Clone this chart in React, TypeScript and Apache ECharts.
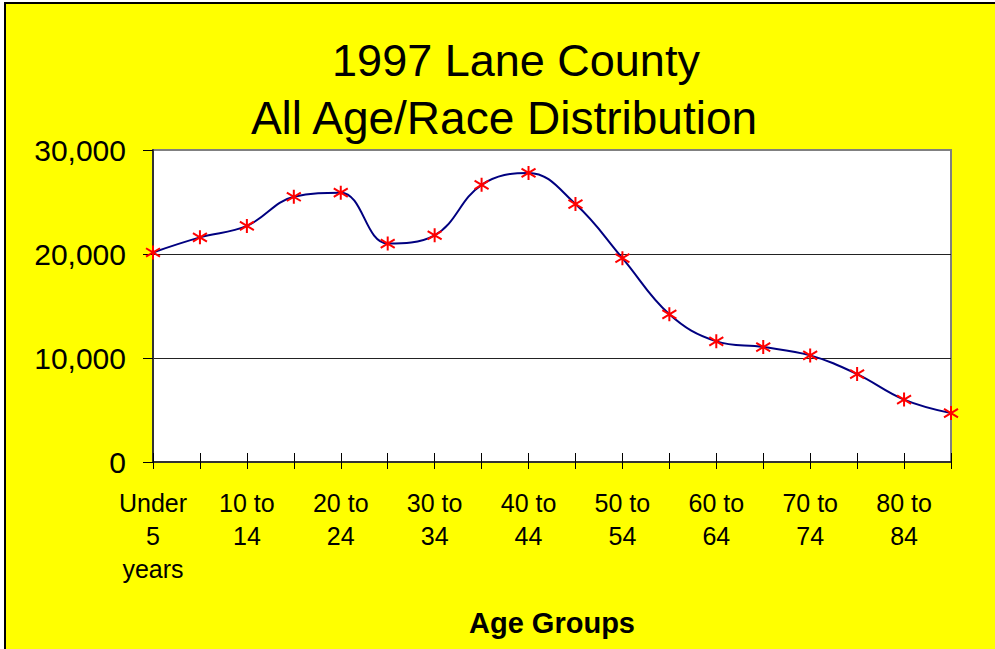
import React, { useEffect, useRef } from "react";
import * as echarts from "echarts";

const categories = [
  "Under\n5\nyears", "5 to\n9", "10 to\n14", "15 to\n19", "20 to\n24", "25 to\n29",
  "30 to\n34", "35 to\n39", "40 to\n44", "45 to\n49", "50 to\n54", "55 to\n59",
  "60 to\n64", "65 to\n69", "70 to\n74", "75 to\n79", "80 to\n84", "85 and\nover",
];
const population = [
  20150, 21600, 22700, 25500, 25900, 21000, 21800, 26650, 27800, 24800, 19600, 14200,
  11600, 11050, 10250, 8450, 6000, 4700,
];
const titleLines = ["1997 Lane County", "All Age/Race Distribution"];
const xAxisTitle = "Age Groups";

const FONT = "'Liberation Sans', Arial, sans-serif";

export default function App() {
  const ref = useRef<HTMLDivElement>(null);
  useEffect(() => {
    if (!ref.current) return;
    const chart = echarts.init(ref.current, undefined, { renderer: "svg" });
    chart.setOption({
      animation: false,
      backgroundColor: "#ffffff",
      graphic: [
        {
          type: "rect",
          z: -10,
          shape: { x: 5, y: 3, width: 1000, height: 660 },
          style: { fill: "#ffff00", stroke: "#000000", lineWidth: 2 },
        },
        {
          type: "text",
          x: 516,
          y: 60,
          style: { text: titleLines[0], font: `45px ${FONT}`, fill: "#000", textAlign: "center", textVerticalAlign: "middle" },
        },
        {
          type: "text",
          x: 504,
          y: 118,
          style: { text: titleLines[1], font: `46px ${FONT}`, fill: "#000", textAlign: "center", textVerticalAlign: "middle" },
        },
      ],
      grid: {
        left: 153,
        top: 150,
        right: 44,
        bottom: 187,
        show: true,
        backgroundColor: "#ffffff",
        borderColor: "#808080",
        borderWidth: 2,
      },
      xAxis: [
        {
          type: "category",
          data: categories,
          boundaryGap: false,
          position: "bottom",
          name: xAxisTitle,
          nameLocation: "middle",
          nameGap: 146,
          nameTextStyle: { fontFamily: FONT, fontSize: 29, fontWeight: "bold", color: "#000" },
          axisLine: { show: true, lineStyle: { color: "#333", width: 2 } },
          axisTick: { show: true, interval: 0, inside: false, length: 7, lineStyle: { color: "#000" } },
          axisLabel: {
            interval: 1,
            margin: 24,
            fontFamily: FONT,
            fontSize: 25,
            lineHeight: 33,
            color: "#000",
            align: "center",
          },
          splitLine: { show: false },
        },
        {
          type: "category",
          data: categories,
          boundaryGap: false,
          position: "bottom",
          offset: 0,
          axisLine: { show: false },
          axisTick: { show: true, interval: 0, inside: true, length: 9, lineStyle: { color: "#000" } },
          axisLabel: { show: false },
          splitLine: { show: false },
        },
      ],
      yAxis: {
        type: "value",
        min: 0,
        max: 30000,
        interval: 10000,
        axisLine: { show: true, lineStyle: { color: "#333", width: 2 } },
        axisTick: { show: true, inside: false, length: 10, lineStyle: { color: "#000" } },
        axisLabel: {
          margin: 27,
          fontFamily: FONT,
          fontSize: 30,
          color: "#000",
          formatter: (v: number) => v.toLocaleString("en-US"),
        },
        splitLine: { show: true, showMinLine: false, showMaxLine: false, lineStyle: { color: "#222", width: 1 } },
      },
      series: [
        {
          type: "line",
          xAxisIndex: 0,
          data: population,
          smooth: 0.4,
          symbol: "path://M5,0L5,10M0,2L10,8M0,8L10,2",
          symbolSize: 14,
          showAllSymbol: true,
          lineStyle: { color: "#000080", width: 2 },
          itemStyle: { color: "#ff0000", borderColor: "#ff0000", borderWidth: 2 },
          z: 3,
        },
      ],
    });
    return () => chart.dispose();
  }, []);
  return <div ref={ref} style={{ position: "fixed", left: 0, top: 0, width: 995, height: 649 }} />;
}
